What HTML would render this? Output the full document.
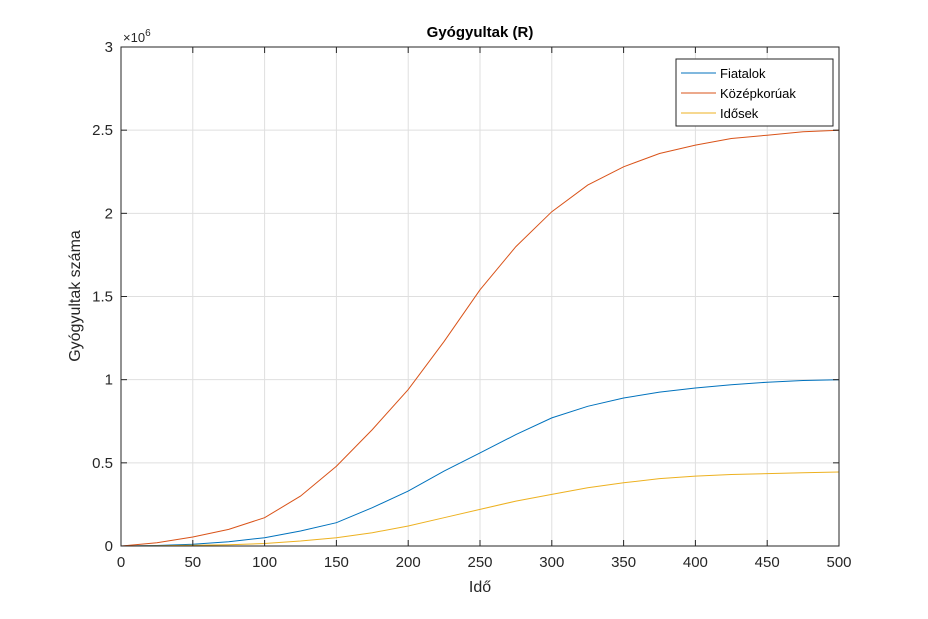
<!DOCTYPE html>
<html><head><meta charset="utf-8"><style>
body{margin:0;background:#fff;}
svg text{font-family:"Liberation Sans",Arial,sans-serif;}
</style></head><body>
<svg id="chart" width="928" height="614" xmlns="http://www.w3.org/2000/svg">
<rect x="0" y="0" width="928" height="614" fill="#fff"/>
<g id="grid"></g>
<g id="series"></g>
<rect x="121" y="47" width="718" height="499" fill="none" stroke="#262626" stroke-width="1"/>
<g id="ticks"></g>
<text x="480" y="37" text-anchor="middle" font-size="15" font-weight="bold" fill="#000">Gyógyultak (R)</text>
<text x="480" y="592" text-anchor="middle" font-size="16" fill="#262626">Idő</text>
<text transform="translate(80,296) rotate(-90)" text-anchor="middle" font-size="16" fill="#262626">Gyógyultak száma</text>
<text x="123" y="42" font-size="13" fill="#262626">×10<tspan dy="-6" font-size="10">6</tspan></text>
<g>
<rect x="676" y="59" width="157" height="67" fill="#fff" stroke="#262626" stroke-width="1"/>
<line x1="681" y1="73" x2="716" y2="73" stroke="#0072BD"/>
<text x="720" y="78" font-size="13" fill="#000">Fiatalok</text>
<line x1="681" y1="93" x2="716" y2="93" stroke="#D95319"/>
<text x="720" y="98" font-size="13" fill="#000">Középkorúak</text>
<line x1="681" y1="113" x2="716" y2="113" stroke="#EDB120"/>
<text x="720" y="118" font-size="13" fill="#000">Idősek</text>
</g>
</svg>
<script>
const times = [0,25,50,75,100,125,150,175,200,225,250,275,300,325,350,375,400,425,450,475,500];
const fiatalok = [0,0.003,0.01,0.025,0.05,0.09,0.14,0.23,0.33,0.45,0.56,0.67,0.77,0.84,0.89,0.925,0.95,0.97,0.985,0.995,1.0];
const kozepkoruak = [0,0.02,0.054,0.1,0.17,0.3,0.48,0.7,0.94,1.23,1.54,1.8,2.01,2.17,2.28,2.36,2.41,2.45,2.47,2.49,2.5];
const idosek = [0,0.001,0.004,0.008,0.015,0.03,0.05,0.08,0.12,0.17,0.22,0.27,0.31,0.35,0.38,0.405,0.42,0.43,0.435,0.44,0.445];
const xTicks = [0,50,100,150,200,250,300,350,400,450,500];
const yTicks = [0,0.5,1,1.5,2,2.5,3];
const yTickLabels = ["0","0.5","1","1.5","2","2.5","3"];
const NS="http://www.w3.org/2000/svg";
const X0=121,X1=839,Y0=546,Y1=47;
function xs(v){return X0+(v-0)/(500-0)*(X1-X0);}
function ys(v){return Y0-(v-0)/(3-0)*(Y0-Y1);}
const grid=document.getElementById('grid'),ticks=document.getElementById('ticks'),series=document.getElementById('series');
function mk(tag,attrs,parent){const e=document.createElementNS(NS,tag);for(const k in attrs)e.setAttribute(k,attrs[k]);parent.appendChild(e);return e;}
xTicks.forEach(t=>{
 const g=mk('line',{x1:xs(t),x2:xs(t),y1:Y1,y2:Y0,stroke:'#dfdfdf'},grid);
 
 
 const k=mk('line',{x1:xs(t),x2:xs(t),y1:Y0,y2:Y0-6,stroke:'#262626'},ticks);
 
 
 const k2=mk('line',{x1:xs(t),x2:xs(t),y1:Y1,y2:Y1+6,stroke:'#262626'},ticks);
 
 
 const l=mk('text',{x:xs(t),y:Y0+21,'text-anchor':'middle','font-size':'15',fill:'#262626'},ticks);
 l.textContent=t;
 
 
});
yTicks.forEach((t,i)=>{
 const g=mk('line',{x1:X0,x2:X1,y1:ys(t),y2:ys(t),stroke:'#dfdfdf'},grid);
 
 
 const k=mk('line',{x1:X0,x2:X0+6,y1:ys(t),y2:ys(t),stroke:'#262626'},ticks);
 
 
 const k2=mk('line',{x1:X1,x2:X1-6,y1:ys(t),y2:ys(t),stroke:'#262626'},ticks);
 
 
 const l=mk('text',{x:X0-8,y:ys(t)+5,'text-anchor':'end','font-size':'15',fill:'#262626'},ticks);
 l.textContent=yTickLabels[i];
 
 
});
function line(vals,color,name){
 const d=times.map((t,i)=>(i?'L':'M')+xs(t).toFixed(1)+','+ys(vals[i]).toFixed(1)).join(' ');
 const p=mk('path',{d:d,fill:'none',stroke:color,'stroke-width':'1'},series);
 
 
}
line(fiatalok,'#0072BD','line-fiatalok');
line(kozepkoruak,'#D95319','line-kozepkoruak');
line(idosek,'#EDB120','line-idosek');
</script>
</body></html>
